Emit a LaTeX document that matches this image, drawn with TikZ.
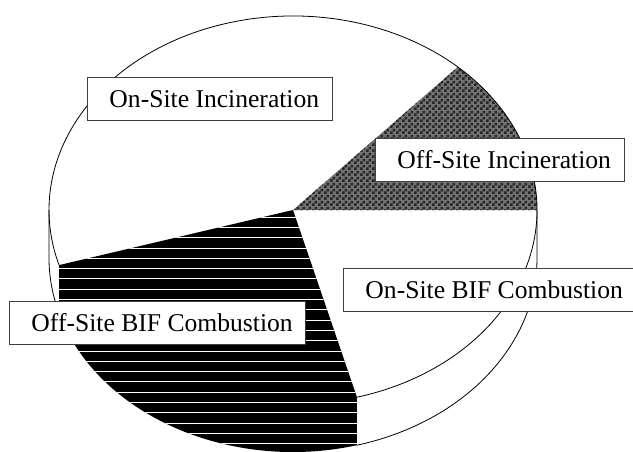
\documentclass[tikz,border=0pt]{standalone}
\usepackage{fontspec}
\setmainfont{Liberation Serif}
\usetikzlibrary{patterns}

% small checker for the shaded slice
\pgfdeclarepatternformonly{smallchecker}{\pgfqpoint{0pt}{0pt}}{\pgfqpoint{3pt}{3pt}}{\pgfqpoint{3pt}{3pt}}{
  \pgfpathrectangle{\pgfqpoint{0pt}{0pt}}{\pgfqpoint{1.5pt}{1.5pt}}
  \pgfpathrectangle{\pgfqpoint{1.5pt}{1.5pt}}{\pgfqpoint{1.5pt}{1.5pt}}
  \pgfusepath{fill}
}

\begin{document}
\begin{tikzpicture}[
  x=0.5pt, y=0.5pt,
  rim/.style={draw=black, line width=0.4pt},
  lbl/.style={draw=black!75, fill=white, line width=0.5pt, anchor=west,
              font=\fontsize{12.8pt}{15pt}\selectfont, minimum height=21.5pt,
              inner xsep=6.5pt, execute at begin node={\hspace*{4.5pt}}},
  hatch/.style={white, line width=0.4pt}
]
\def\rx{244}\def\ry{194}\def\dep{48}
\useasboundingbox (-293,-241) rectangle (340,210);

% side wall outlines
\draw[rim] (180:{\rx} and {\ry}) -- ++(0,-\dep)
  arc[start angle=180, end angle=196.5, x radius=\rx, y radius=\ry];
\draw[rim] (0:{\rx} and {\ry}) -- ++(0,-\dep)
  arc[start angle=360, end angle=285.2, x radius=\rx, y radius=\ry];

% off-site BIF slice, top and wall, black with white lines
\fill[black, path picture={
    \foreach \k in {0,...,22}
      \draw[hatch] (-300,{-7-10.3*\k}) -- (120,{-7-10.3*\k});
  }]
  (0,0) -- (196.5:{\rx} and {\ry}) -- ++(0,-\dep)
  arc[start angle=196.5, end angle=285.2, x radius=\rx, y radius=\ry]
  -- (285.2:{\rx} and {\ry}) -- cycle;

% off-site incineration slice
\path[preaction={fill=black!55}, pattern=smallchecker, pattern color=black!85]
  (0,0) -- (0:{\rx} and {\ry})
  arc[start angle=0, end angle=47.5, x radius=\rx, y radius=\ry] -- cycle;

% top rim
\draw[rim] (285.2:{\rx} and {\ry})
  arc[start angle=-74.8, end angle=196.5, x radius=\rx, y radius=\ry];

% labels
\node[lbl] (oninc) at (-206,111) {On-Site Incineration};
\node[lbl] (offinc) at (82,50) {Off-Site Incineration};
\node[lbl] (onbif) at (50,-79.5) {On-Site BIF Combustion};
\node[lbl] (offbif) at (-284,-113) {Off-Site BIF Combustion};
\end{tikzpicture}
\end{document}
